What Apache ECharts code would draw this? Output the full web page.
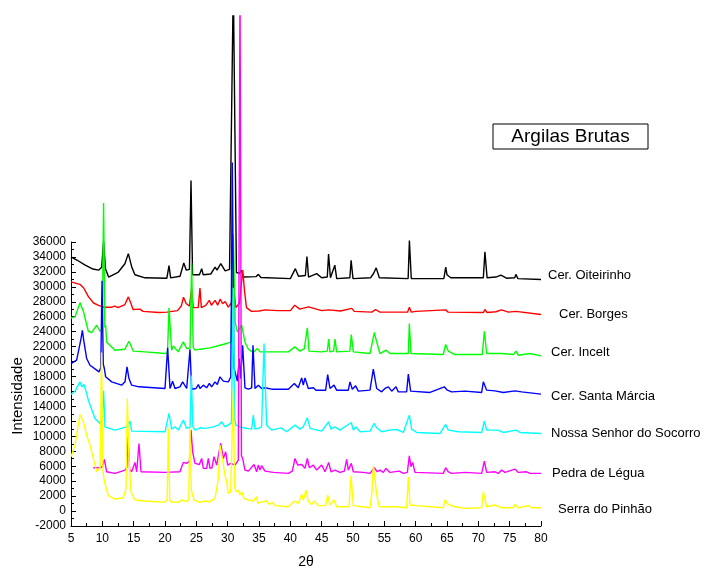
<!DOCTYPE html>
<html>
<head>
<meta charset="utf-8">
<script src="https://cdn.jsdelivr.net/npm/echarts@6/dist/echarts.min.js"></script>
<style>
  html, body { margin: 0; padding: 0; background: #fff; }
  #chart { width: 707px; height: 574px; }
</style>
</head>
<body>
<div id="chart"></div>
<script>
// [2θ, intensidade], one array per sample
const oiteirinho = [[5.0,34030],[6.0,33600],[7.2,33000],[8.5,32450],[9.4,32300],[9.9,32700],[10.2,36100],[10.5,32500],[11.0,31400],[12.5,32000],[13.6,33150],[14.15,34470],[14.7,32700],[15.2,31700],[16.8,31300],[20.3,31250],[20.64,32900],[20.9,31300],[22.4,31500],[23.0,33250],[23.4,32300],[23.9,32400],[24.15,44050],[24.4,31700],[25.5,31700],[25.85,32500],[26.1,31700],[27.3,31800],[28.0,32700],[28.3,32300],[28.9,33150],[29.6,32200],[30.3,32400],[30.9,70000],[31.4,32000],[31.9,31900],[32.2,32300],[32.5,31400],[34.5,31450],[34.9,31750],[35.3,31350],[40.0,31200],[40.8,32500],[41.3,31500],[42.4,31600],[42.65,34100],[42.9,31400],[44.2,31850],[45.0,31300],[45.9,31400],[46.1,34400],[46.4,31300],[47.1,32950],[47.4,31200],[49.5,31300],[49.7,33600],[50.0,31200],[52.8,31300],[53.3,31900],[53.7,32600],[54.2,31300],[58.8,31200],[59.0,36200],[59.3,31200],[64.5,31200],[64.8,32700],[65.0,31700],[65.3,31800],[65.6,31300],[70.8,31300],[71.05,34700],[71.4,31300],[72.8,31400],[73.6,31650],[74.5,31250],[75.8,31300],[76.0,31750],[76.3,31200],[80.0,31070]];

const borges = [[5.0,30760],[6.4,30450],[7.0,30000],[7.8,28800],[8.6,28000],[9.4,27700],[10.2,27450],[11.5,27450],[12.0,27600],[12.5,27400],[13.6,27800],[14.15,28800],[14.5,28100],[14.9,27150],[16.0,27200],[16.2,27400],[16.5,26900],[19.0,26750],[20.3,26800],[22.0,27000],[22.6,27600],[22.95,28750],[23.4,27900],[23.9,27600],[24.25,29900],[24.5,27400],[25.3,27400],[25.58,29950],[25.8,27400],[26.5,27700],[27.07,28350],[27.4,27700],[28.0,28350],[28.4,27700],[28.8,28500],[29.2,27900],[29.6,28200],[30.1,27450],[30.6,28000],[30.9,30500],[31.3,27400],[31.9,28000],[32.4,32300],[32.7,29500],[33.0,27400],[33.8,26900],[35.0,26950],[36.0,27100],[38.0,27000],[40.0,27000],[40.7,27700],[41.5,27200],[42.9,27500],[45.0,27000],[46.1,27100],[48.0,26950],[49.8,27300],[50.2,26900],[53.0,26800],[53.6,27150],[54.3,26800],[58.7,26800],[59.0,27450],[59.3,26800],[60.0,26900],[64.8,27100],[65.2,26800],[70.8,26750],[71.06,27150],[71.4,26750],[72.8,26850],[73.7,27100],[74.8,26800],[76.0,26900],[80.0,26500]];

const incelt = [[5.0,26050],[5.64,26180],[6.44,28050],[6.97,26920],[7.77,24300],[8.3,24130],[9.1,25090],[9.63,24300],[10.0,24600],[10.2,41100],[10.4,24800],[10.53,25090],[10.69,22900],[12.02,21820],[13.6,21950],[14.25,22990],[14.95,21690],[16.8,21600],[20.0,21380],[20.4,21500],[20.64,27360],[21.06,21820],[21.33,22380],[22.1,21600],[22.92,22900],[23.46,22030],[24.0,22100],[24.25,33200],[24.5,22200],[24.79,21820],[25.58,21950],[27.2,22120],[28.77,22470],[29.84,22690],[30.53,22900],[30.9,37000],[31.2,25500],[31.54,24220],[31.97,24740],[32.23,25090],[32.76,22900],[33.3,21950],[34.1,21510],[34.73,22030],[35.16,21600],[39.68,21600],[40.74,22250],[41.54,21690],[42.23,22030],[42.71,24740],[42.98,21690],[45.0,21600],[45.9,21700],[46.12,23260],[46.33,21600],[46.9,21700],[47.13,23260],[47.39,21600],[49.5,21700],[49.73,23870],[50.05,21600],[52.71,21380],[53.4,24130],[53.78,22900],[54.3,21380],[55.26,21820],[55.9,21380],[58.83,21380],[58.99,25310],[59.25,21380],[64.41,21250],[64.79,22560],[65.21,21690],[65.32,21600],[66.28,21250],[70.64,21250],[70.96,24300],[71.33,21380],[73.72,21380],[75.6,21250],[76.01,21690],[76.38,21160],[78.24,21380],[80.0,21070]];

const santaMarcia = [[5.0,20070],[5.9,20510],[6.6,23340],[6.81,24430],[7.07,22900],[7.5,20730],[8.03,19850],[9.1,19200],[9.47,18980],[9.75,19500],[9.95,30900],[10.15,20000],[10.32,19420],[10.53,18330],[11.49,17670],[13.08,17240],[13.62,17670],[13.94,19640],[14.25,18110],[14.68,17240],[15.85,17020],[20.0,16800],[20.42,22120],[20.8,16800],[21.22,17760],[21.59,16800],[22.39,17020],[22.82,17670],[23.46,16800],[23.99,21950],[24.25,16710],[24.94,16800],[25.32,17320],[25.58,16800],[26.11,17240],[26.65,16890],[27.07,17460],[27.44,17020],[27.98,17670],[28.35,17320],[28.77,18330],[29.31,17760],[30.1,17670],[30.5,18300],[30.74,46400],[31.0,19500],[31.17,18980],[31.54,17760],[31.86,20730],[32.07,18110],[32.39,22470],[32.76,16890],[33.3,16710],[33.83,16890],[34.04,22470],[34.36,16800],[34.89,17240],[35.42,16800],[35.96,16890],[37.02,16710],[39.68,16710],[40.64,17460],[41.27,16890],[41.81,18190],[42.07,17240],[42.34,18190],[42.87,16800],[43.67,16890],[44.09,16580],[45.64,16580],[45.96,18630],[46.33,16800],[46.97,17240],[47.39,16580],[49.25,16580],[49.52,17670],[49.89,16710],[50.42,17150],[50.85,16450],[52.71,16580],[53.24,19330],[53.78,16800],[54.57,16360],[55.1,16800],[55.64,17020],[56.17,16450],[56.86,17020],[57.23,16360],[58.56,16360],[58.83,18680],[59.2,16450],[62.29,16280],[64.57,17020],[65.05,16580],[65.74,16360],[67.87,16450],[70.53,16280],[70.8,17670],[71.33,16580],[72.66,16490],[73.99,16280],[75.85,16490],[76.91,16360],[80.0,16060]];

const socorro = [[5.0,16020],[5.64,16450],[6.44,17670],[6.7,17020],[7.07,17320],[7.34,16580],[7.77,15270],[8.83,12870],[9.89,12000],[10.2,16500],[10.42,11780],[12.02,11350],[13.88,11780],[14.41,12530],[14.68,11220],[20.0,11130],[20.16,11220],[20.64,13530],[21.06,11480],[21.59,11780],[22.13,11350],[22.92,12660],[23.46,11570],[24.0,11700],[24.2,18500],[24.45,11800],[24.79,11350],[25.58,11650],[26.38,11570],[27.71,11780],[28.51,12000],[29.04,12440],[29.57,11780],[30.6,12300],[30.9,30000],[31.1,12800],[31.33,12000],[31.97,11780],[32.5,11650],[33.83,11480],[34.09,13310],[34.36,11480],[34.89,11570],[35.42,11780],[35.8,22690],[36.22,12000],[37.02,11350],[38.51,11650],[39.41,11130],[40.74,12000],[41.54,11480],[42.07,11780],[42.71,12960],[43.14,11570],[45.0,11220],[46.12,12440],[46.49,11480],[47.13,11780],[47.92,11350],[49.73,12350],[50.05,11350],[50.48,11780],[51.12,11130],[52.71,11220],[53.35,12220],[53.78,11650],[54.57,11130],[55.8,11350],[56.97,11430],[58.03,11040],[58.99,13310],[59.36,11480],[60.16,11040],[63.88,10910],[64.79,12090],[65.21,11350],[65.48,11220],[66.81,11130],[70.53,11040],[70.96,12530],[71.33,11350],[73.08,11350],[73.99,11040],[76.01,11350],[76.65,11040],[80.0,10910]];

const pedraLegua = [[8.56,6420],[9.63,6420],[10.0,6550],[10.32,7510],[10.69,5890],[12.02,5680],[13.62,6110],[13.9,6500],[14.1,10500],[14.35,6200],[14.68,5890],[15.21,7120],[15.48,5890],[15.85,9600],[16.17,5890],[20.0,5810],[22.39,5890],[22.92,7120],[23.46,6990],[23.9,7300],[24.15,11350],[24.41,8510],[24.79,6990],[25.48,6850],[25.85,7640],[26.11,6330],[26.65,6330],[26.91,7640],[27.18,6330],[27.5,6420],[27.82,7860],[28.24,6770],[28.88,9600],[29.31,7640],[29.68,8510],[30.0,6770],[30.48,6990],[31.17,6770],[31.7,7420],[31.97,70000],[32.2,8000],[32.39,7640],[32.76,6110],[33.3,5980],[34.2,6850],[34.63,5890],[34.89,6770],[35.16,6110],[35.42,6680],[35.96,5980],[37.29,5810],[39.68,5680],[40.32,5980],[40.74,7640],[41.17,6770],[41.81,6850],[42.34,6330],[42.71,7640],[43.03,6420],[43.67,6770],[44.2,6110],[45.0,6770],[45.53,5890],[46.12,7120],[46.49,5890],[47.13,6110],[47.92,5810],[48.62,5980],[48.99,7510],[49.25,6110],[49.73,6990],[50.05,5890],[51.65,5810],[52.71,5680],[53.4,6420],[53.88,5890],[54.31,6110],[54.84,5810],[55.26,6330],[55.9,5810],[57.39,5980],[58.03,5680],[58.67,5810],[58.99,7990],[59.25,6550],[59.52,7120],[59.89,5810],[64.41,5680],[64.79,6420],[65.21,5890],[65.74,5680],[67.87,5810],[70.53,5680],[70.96,7290],[71.33,5810],[72.66,5890],[73.19,5680],[73.72,6110],[74.25,5810],[75.85,6240],[76.38,5810],[77.71,5890],[78.24,5680],[80.0,5680]];

const serraPinhao = [[5.0,7860],[5.64,9380],[6.44,13400],[6.97,12440],[7.5,10690],[8.03,9380],[8.56,7640],[9.1,5890],[9.36,5680],[9.65,6500],[9.87,21500],[10.1,6000],[10.32,4590],[10.96,2750],[12.02,2320],[13.35,2490],[13.78,3710],[13.99,15490],[14.25,7640],[14.57,3280],[15.21,2190],[16.81,2060],[20.0,1880],[20.35,2300],[20.53,11650],[20.75,2300],[20.9,1970],[22.13,1880],[22.66,2190],[23.46,1970],[23.8,2300],[23.99,11570],[24.2,3500],[24.41,2840],[24.63,2190],[25.58,1880],[26.38,2060],[27.18,1970],[27.98,2400],[28.51,5020],[28.77,9380],[29.15,7640],[29.57,5460],[29.84,4590],[30.1,3060],[30.48,3280],[30.9,16800],[31.1,4000],[31.33,3280],[31.7,3500],[31.97,2840],[32.23,3280],[32.6,2400],[33.3,2190],[34.09,2060],[34.63,2620],[34.79,1750],[35.16,1880],[36.22,2060],[36.6,1620],[37.18,1880],[37.55,1450],[39.68,1310],[40.64,2060],[41.27,1750],[41.81,2930],[42.07,2190],[42.5,3500],[42.87,1970],[43.4,1620],[43.83,2060],[44.47,1450],[45.64,1450],[45.96,2840],[46.33,1530],[46.97,2190],[47.39,1310],[49.36,1310],[49.68,5370],[50.05,1450],[52.71,1180],[53.03,3280],[53.24,6680],[53.51,5020],[53.78,2840],[54.2,1310],[56.97,1310],[58.56,1180],[58.83,5240],[59.1,1530],[60.16,1450],[64.41,1180],[64.68,2190],[65.21,1620],[66.28,1310],[67.87,1090],[70.53,1180],[70.8,3280],[71.33,1310],[72.66,1530],[73.72,1180],[75.6,1180],[75.85,1620],[76.38,1180],[77.98,1450],[78.51,1180],[80.0,1180]];

const sampleNames = ["Cer. Oiteirinho", "Cer. Borges", "Cer. Incelt", "Cer. Santa Márcia", "Nossa Senhor do Socorro", "Pedra de Légua", "Serra do Pinhão"];
const sampleData = [oiteirinho, borges, incelt, santaMarcia, socorro, pedraLegua, serraPinhao];

// styling / layout
const lineColors = ["#000000", "#ff0000", "#00ff00", "#0000ff", "#00ffff", "#ff00ff", "#ffff00"];
const labelPos = [[548, 275], [559, 314], [551, 352], [551, 396], [551, 433], [552, 473], [558, 509]];
const font = '"Liberation Sans", Arial, sans-serif';

const chart = echarts.init(document.getElementById("chart"));

const series = sampleData.map((d, i) => ({
  name: sampleNames[i],
  type: "line",
  xAxisIndex: 1,
  yAxisIndex: 1,
  data: [...d].sort((a, b) => a[0] - b[0]),
  showSymbol: false,
  symbol: "none",
  clip: true,
  lineStyle: { color: lineColors[i], width: 1.4 },
  itemStyle: { color: lineColors[i] },
  emphasis: { disabled: true }
}));

const graphic = sampleNames.map((n, i) => ({
  type: "text",
  x: labelPos[i][0],
  y: labelPos[i][1],
  style: { text: n, font: "13px " + font, fill: "#000", textAlign: "left", textVerticalAlign: "middle", align: "left", verticalAlign: "middle" }
}));
graphic.push({
  type: "rect",
  shape: { x: 493, y: 124, width: 155, height: 25 },
  style: { fill: "#fff", stroke: "#000", lineWidth: 1 }
});
graphic.push({
  type: "text",
  x: 570.5, y: 137,
  style: { text: "Argilas Brutas", font: "19px " + font, fill: "#000", textAlign: "center", textVerticalAlign: "middle", align: "center", verticalAlign: "middle" }
});
graphic.push({
  type: "text",
  x: 18, y: 396,
  rotation: Math.PI / 2,
  style: { text: "Intensidade", font: "15px " + font, fill: "#000", textAlign: "center", textVerticalAlign: "middle", align: "center", verticalAlign: "middle" }
});

chart.setOption({
  animation: false,
  backgroundColor: "#fff",
  grid: [
    { left: 71, right: 166, top: 242, bottom: 42 },   // visible axes
    { left: 71, right: 166, top: 16, bottom: 42 }     // traces (same scale, taller)
  ],
  xAxis: [
    {
      gridIndex: 0, type: "value", min: 5, max: 80, interval: 5,
      name: "2θ", nameLocation: "middle", nameGap: 29,
      nameTextStyle: { fontFamily: font, fontSize: 14, color: "#000" },
      axisLine: { show: true, onZero: false, lineStyle: { color: "#000", width: 1 } },
      axisTick: { show: true, inside: true, length: 5, lineStyle: { color: "#000" } },
      minorTick: { show: true, splitNumber: 2, length: 3, lineStyle: { color: "#000" } },
      splitLine: { show: false },
      axisLabel: { color: "#000", fontSize: 12, fontFamily: font, margin: 7, formatter: v => String(v) }
    },
    { gridIndex: 1, type: "value", min: 5, max: 80, show: false }
  ],
  yAxis: [
    {
      gridIndex: 0, type: "value", min: -2000, max: 36000, interval: 2000,
      axisLine: { show: true, onZero: false, lineStyle: { color: "#000", width: 1 } },
      axisTick: { show: true, inside: true, length: 5, lineStyle: { color: "#000" } },
      minorTick: { show: true, splitNumber: 2, length: 3, lineStyle: { color: "#000" } },
      splitLine: { show: false },
      axisLabel: { color: "#000", fontSize: 12, fontFamily: font, margin: 5, formatter: v => String(v) }
    },
    { gridIndex: 1, type: "value", min: -2000, max: 65600, show: false }
  ],
  series: series,
  graphic: graphic
});
</script>
</body>
</html>
